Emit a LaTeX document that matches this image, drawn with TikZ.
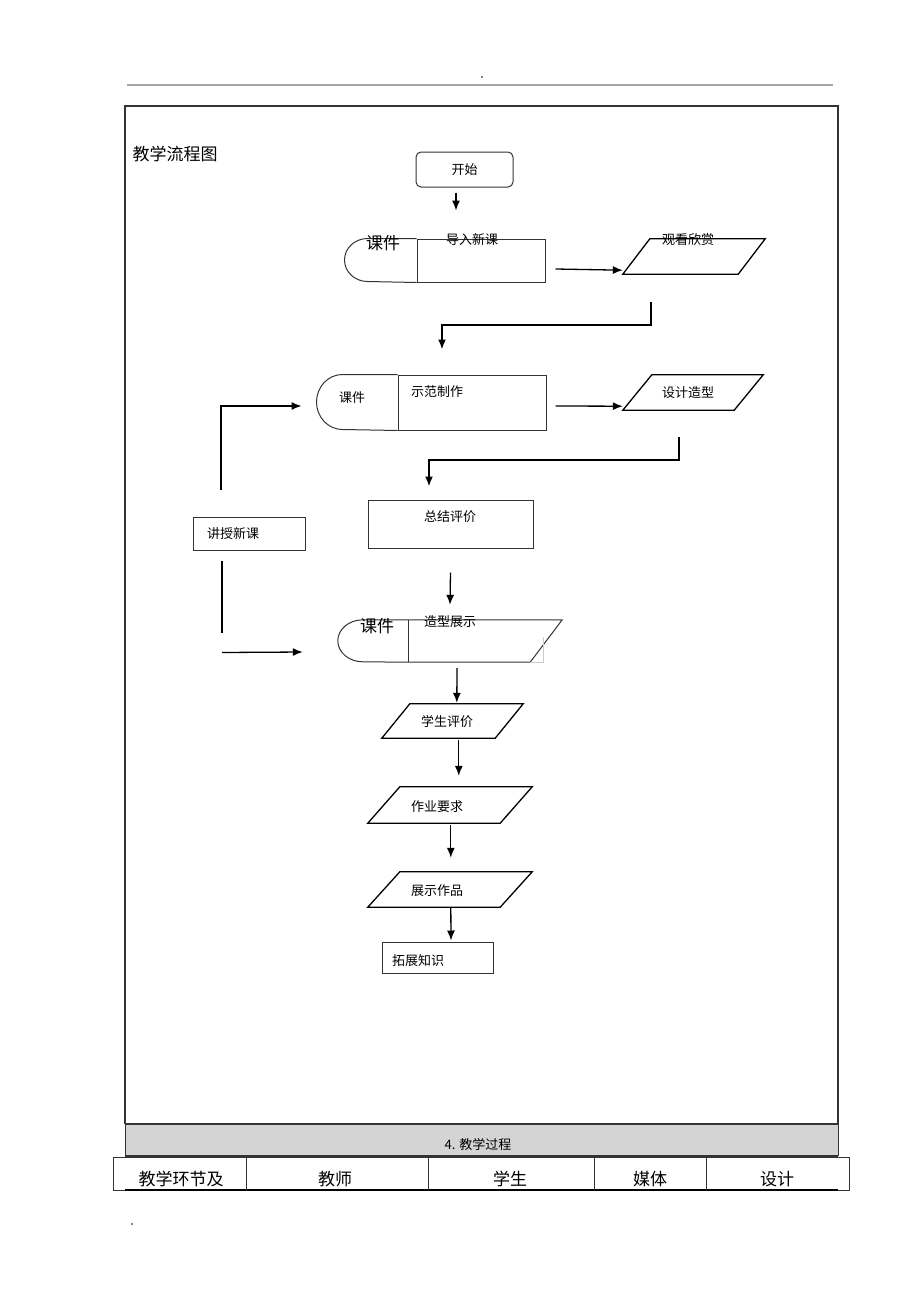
\documentclass[tikz,border=0pt]{standalone}
\usepackage{fontspec}
\setmainfont{Noto Sans CJK SC}
\usetikzlibrary{arrows.meta}
\definecolor{lGray}{HTML}{D4D4D4}
\definecolor{dGray}{HTML}{333333}
% slanted box round a named node: #1 node, #2 slant offset
\newcommand{\drawPara}[2]{\draw[black, line width=1.3pt] ([xshift=#2]#1.north west) -- (#1.north east) -- ([xshift=-#2]#1.south east) -- (#1.south west) -- cycle;}

\begin{document}
\begin{tikzpicture}[x=1pt,y=-1pt,>={Latex[length=10pt,width=8pt]}]
		\tikzstyle{BOX} = [draw=dGray, line width=1pt, inner sep=0pt]
		\tikzstyle{begin} = [BOX, rounded corners=5pt, font=\fontsize{13}{15}\selectfont]
		\tikzstyle{proc} = [BOX]
		\tikzstyle{para} = [inner sep=0pt]
		\tikzstyle{txt} = [inner sep=0pt, font=\fontsize{13}{15}\selectfont]
		\tikzstyle{big} = [inner sep=0pt, font=\fontsize{17}{19}\selectfont]
		\tikzstyle{arr} = [->, line width=1.3pt]
		\tikzstyle{elbow} = [->, line width=1.8pt]

		\useasboundingbox (0,0) rectangle (920,1303);

		% page frame
		\fill (482,77) circle (0.9);
		\draw[gray!70, line width=1.5pt] (127,85) -- (833,85);
		\draw[dGray, line width=1.4pt] (125,1124) -- (125,106) -- (838,106) -- (838,1124);
		\node[big] (title) at (175,154) {教学流程图};

		% shapes
		\node[begin, minimum width=97pt, minimum height=35pt] (start) at (464.5,169.5) {开始};
		\node[proc, minimum width=128pt, minimum height=43pt] (dRu) at (481,260.5) {};
		\draw[dGray, line width=1pt] (dRu.north west) -- ++(-49,0) arc[start angle=90, end angle=270, x radius=23pt, y radius=21.5pt] -- (dRu.south west);
		\node[big] (kOne) at (383,243) {课件};
		\node[txt] (dRuT) at (472,240) {导入新课};
		\node[para, minimum width=142pt, minimum height=35pt] (gKan) at (694,256.5) {};
		\drawPara{gKan}{27pt}
		\node[txt] (gKanT) at (688,240) {观看欣赏};

		\node[proc, minimum width=148pt, minimum height=55pt] (sFan) at (472,402.5) {};
		\draw[dGray, line width=1pt] (sFan.north west) -- ++(-55,0) arc[start angle=90, end angle=270, x radius=26pt, y radius=27.5pt] -- (sFan.south west);
		\node[txt] (kTwo) at (352,398) {课件};
		\node[txt] (sFanT) at (437,392) {示范制作};
		\node[para, minimum width=140pt, minimum height=35pt] (sJi) at (693,392.5) {};
		\drawPara{sJi}{29pt}
		\node[txt] (sJiT) at (688,392.5) {设计造型};

		\node[proc, minimum width=165pt, minimum height=48pt] (zJie) at (450.5,524) {};
		\node[txt] (zJieT) at (450,517) {总结评价};
		\node[proc, minimum width=112pt, minimum height=33pt] (jShou) at (249,533.5) {};
		\node[txt] (jShouT) at (233,534) {讲授新课};

		\node[inner sep=0pt, minimum width=153pt, minimum height=42pt] (zXing) at (485.5,641) {};
		\draw[dGray, line width=1pt] (zXing.north east) -- (zXing.north west) -- ++(-46,0) arc[start angle=90, end angle=270, x radius=25pt, y radius=21pt] -- (zXing.south west) -- ([xshift=-32pt]zXing.south east) -- cycle;
		\draw[dGray, line width=1pt] (zXing.north west) -- (zXing.south west);
		\draw[gray!40, line width=0.8pt] ([xshift=-32pt]zXing.south east) -- ++(13,0) -- ++(0,-25);
		\node[big] (kThr) at (377,626) {课件};
		\node[txt] (zXingT) at (450,622) {造型展示};

		\node[para, minimum width=141pt, minimum height=34pt] (xPing) at (452.5,721) {};
		\drawPara{xPing}{28pt}
		\node[txt] (xPingT) at (447,722) {学生评价};
		\node[para, minimum width=164pt, minimum height=36pt] (zYe) at (450,805) {};
		\drawPara{zYe}{32pt}
		\node[txt] (zYeT) at (437,807) {作业要求};
		\node[para, minimum width=164pt, minimum height=35pt] (zZuo) at (450,889.5) {};
		\drawPara{zZuo}{32pt}
		\node[txt] (zZuoT) at (437,891) {展示作品};
		\node[proc, minimum width=111pt, minimum height=31pt] (tZhan) at (437.5,957.5) {};
		\node[txt] (tZhanT) at (418,961) {拓展知识};

		% connectors
		\draw[arr] ([xshift=-8.5pt,yshift=-5pt]start.south) -- ([xshift=-25pt,yshift=28pt]dRu.north);
		\draw[arr] ([xshift=10pt,yshift=-8.5pt]dRu.east) -- ([yshift=4pt]gKan.south west);
		\draw[elbow] ([xshift=-114pt,yshift=-28pt]gKan.south east) -- ++(0,23) -| ([xshift=-30pt,yshift=25pt]sFan.north);
		\draw[arr] ([xshift=9pt,yshift=-3.5pt]sFan.east) -- ([yshift=4pt]sJi.south west);
		\draw[elbow] ([xshift=-84pt,yshift=-27pt]sJi.south east) -- ++(0,23) -| ([xshift=-21.5pt,yshift=13pt]zJie.north);
		\draw[arr] ([xshift=-28pt,yshift=27pt]jShou.north) |- ([xshift=-96pt,yshift=-3.5pt]sFan.west);
		\draw[line width=1.3pt] ([xshift=-27pt,yshift=-10pt]jShou.south) -- ([xshift=-27pt,yshift=-82pt]jShou.south);
		\draw[arr] ([xshift=-27pt,yshift=-102pt]jShou.south) -- ([xshift=-106pt,yshift=-11pt]zXing.west);
		\draw[arr] ([yshift=-24pt]zJie.south) -- ([xshift=-35.5pt,yshift=15pt]zXing.north);
		\draw[arr] ([xshift=-28.5pt,yshift=-6pt]zXing.south) -- ([xshift=75pt,yshift=1pt]xPing.north west);
		\draw[arr] ([xshift=77pt,yshift=-2pt]xPing.south west) -- ([xshift=91pt,yshift=11pt]zYe.north west);
		\draw[arr] ([xshift=83pt,yshift=-2pt]zYe.south west) -- ([xshift=83pt,yshift=14pt]zZuo.north west);
		\draw[arr] ([xshift=83pt]zZuo.south west) -- ([xshift=13.5pt,yshift=1pt]tZhan.north);

		% table head
		\fill[lGray] (125,1124) rectangle (838,1156);
		\draw[dGray, line width=1.4pt] (125,1124) -- (838,1124);
		\draw[dGray, line width=1.4pt] (125,1156) -- (838,1156);
		\draw[dGray, line width=1pt] (125,1124) -- (125,1156) (838,1124) -- (838,1156);
		\node[txt] (step4) at (478,1145) {4. 教学过程};
		\draw[dGray, line width=1pt] (113,1157) rectangle (849,1190);
		\draw[black, line width=1.5pt] (125,1190) -- (838,1190);
		\foreach \cx in {246,428,594,706}
			\draw[dGray, line width=1pt] (\cx,1157) -- (\cx,1190);
		\node[big] (hOne) at (181,1179) {教学环节及};
		\node[big] (hTwo) at (335,1179) {教师};
		\node[big] (hThr) at (510,1179) {学生};
		\node[big] (hFou) at (650,1179) {媒体};
		\node[big] (hFiv) at (777,1179) {设计};
		\fill (132,1224) circle (0.9);
\end{tikzpicture}
\end{document}
